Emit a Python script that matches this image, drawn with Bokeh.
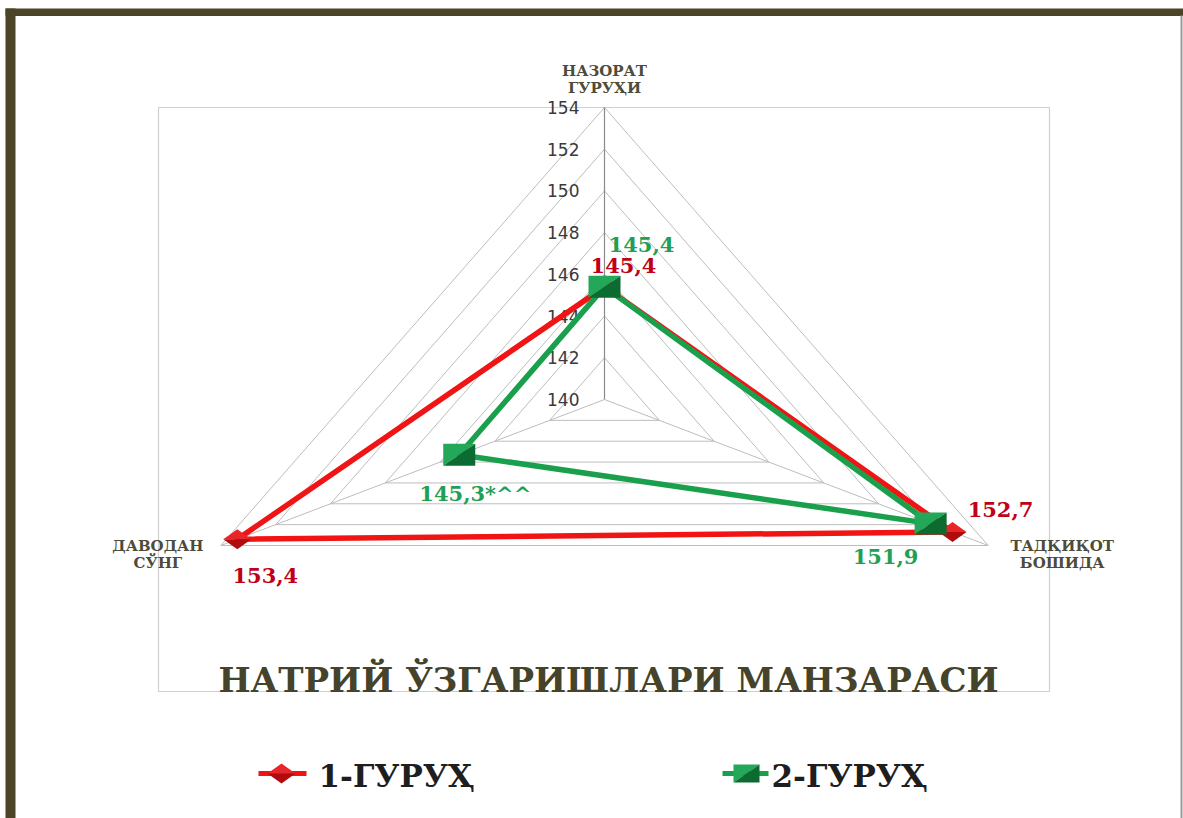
import math
from bokeh.plotting import figure
from bokeh.models import Range1d, ColumnDataSource
from bokeh.core.properties import value
from bokeh.embed import file_html
from bokeh.resources import INLINE

# ---------------- data ----------------
categories = ["НАЗОРАТ ГУРУҲИ", "ТАДҚИҚОТ БОШИДА", "ДАВОДАН СЎНГ"]
cat_lines = [["НАЗОРАТ", "ГУРУҲИ"], ["ТАДҚИҚОТ", "БОШИДА"], ["ДАВОДАН", "СЎНГ"]]
group1 = [145.4, 152.7, 153.4]
group2 = [145.4, 151.9, 145.3]
labels1 = ["145,4", "152,7", "153,4"]
labels2 = ["145,4", "151,9", "145,3*^^"]
ticks = [140, 142, 144, 146, 148, 150, 152, 154]
series_names = ["1-ГУРУҲ", "2-ГУРУҲ"]
title = "НАТРИЙ ЎЗГАРИШЛАРИ МАНЗАРАСИ"

# ---------------- layout / style ----------------
W, H = 1183, 818
CX, CY = 604, 399
RX, RY = 443, 292
VMIN, VMAX = ticks[0], ticks[-1]
RED, RED_DARK, RED_LIGHT, RED_TXT = "#f01414", "#b00c10", "#e8262a", "#c00018"
GRN, GRN_DARK, GRN_LIGHT, GRN_TXT = "#1aa04c", "#0c6b30", "#22a858", "#1fa055"
SERIF = value("DejaVu Serif")
SANS = value("DejaVu Sans")


def pt(v, k):
    r = (v - VMIN) / (VMAX - VMIN)
    th = 2 * math.pi * k / len(categories)
    return CX + r * math.sin(th) * RX, CY - r * math.cos(th) * RY


p = figure(width=W, height=H, x_range=Range1d(0, W), y_range=Range1d(H, 0),
           output_backend="svg", toolbar_location=None, min_border=0)
p.axis.visible = False
p.grid.visible = False
p.outline_line_color = None
p.background_fill_color = "white"
p.border_fill_color = "white"

# outer frame
p.quad(left=[5], right=[W], top=[8], bottom=[15.5], fill_color="#4b4426", line_color=None)
p.quad(left=[5], right=[15], top=[8], bottom=[H], fill_color="#4b4426", line_color=None)
p.segment(x0=[1181], y0=[15], x1=[1181], y1=[H], line_color="#9a9a9a", line_width=2)

# plot area box
p.quad(left=[158], right=[1049], top=[107], bottom=[691], fill_color=None,
       line_color="#cfcfcf", line_width=1.2)

# grid rings
n = len(categories)
gx, gy = [], []
for v in ticks[1:]:
    pts = [pt(v, k) for k in range(n)] + [pt(v, 0)]
    gx.append([q[0] for q in pts])
    gy.append([q[1] for q in pts])
p.multi_line(gx, gy, line_color="#bdbdbd", line_width=1)

# spokes
for k in range(n):
    x1, y1 = pt(VMAX, k)
    p.segment(x0=[CX], y0=[CY], x1=[x1], y1=[y1],
              line_color="#8a8a8a" if k == 0 else "#bdbdbd", line_width=1.2 if k == 0 else 1)

# tick labels
tx = [pt(v, 0)[0] for v in ticks]
ty = [pt(v, 0)[1] for v in ticks]
p.text(tx, ty, text=[str(v) for v in ticks], x_offset=-25, text_align="right",
       text_baseline="middle", text_font=SANS, text_font_size="17px", text_color="#3a3a3a")

# category labels
cat_off = [(0, -37, 17), (74, 0, 17), (-63, 0, 17)]
for k in range(n):
    vx, vy = pt(VMAX, k)
    dx, dy, lh = cat_off[k]
    for j, line in enumerate(cat_lines[k]):
        p.text([vx], [vy], text=[line], x_offset=dx, y_offset=dy + j * lh,
               text_align="center", text_baseline="middle", text_font=SERIF,
               text_font_style="bold", text_font_size="15px", text_color="#4d4b3a")


def series_xy(vals):
    pts = [pt(v, k) for k, v in enumerate(vals)]
    pts.append(pts[0])
    return [q[0] for q in pts], [q[1] for q in pts]


def diamond(x, y, hw=14, hh=10):
    up = ([x - hw, x, x + hw], [y, y - hh, y])
    lo = ([x - hw, x, x + hw], [y, y + hh, y])
    return up, lo


def square(x, y, hw=16, hh=11):
    ul = ([x - hw, x + hw, x - hw], [y - hh, y - hh, y + hh])
    lr = ([x + hw, x + hw, x - hw], [y - hh, y + hh, y + hh])
    return ul, lr


def draw_diamonds(xs, ys, hw=14, hh=10):
    ups, los = [], []
    for x, y in zip(xs, ys):
        u, l = diamond(x, y, hw, hh)
        ups.append(u)
        los.append(l)
    p.patches([u[0] for u in ups], [u[1] for u in ups], fill_color=RED_LIGHT, line_color=None)
    p.patches([l[0] for l in los], [l[1] for l in los], fill_color=RED_DARK, line_color=None)


def draw_squares(xs, ys, hw=16, hh=11):
    a, b = [], []
    for x, y in zip(xs, ys):
        u, l = square(x, y, hw, hh)
        a.append(u)
        b.append(l)
    p.patches([u[0] for u in a], [u[1] for u in a], fill_color=GRN_LIGHT, line_color=None)
    p.patches([l[0] for l in b], [l[1] for l in b], fill_color=GRN_DARK, line_color=None)


# series 1
x1s, y1s = series_xy(group1)
p.line(x1s, y1s, line_color=RED, line_width=5.5, line_join="round")
draw_diamonds(x1s[:-1], y1s[:-1])

# series 2
x2s, y2s = series_xy(group2)
p.line(x2s, y2s, line_color=GRN, line_width=5.5, line_join="round")
draw_squares(x2s[:-1], y2s[:-1])

# data labels
off1 = [(19, -21), (48, -22), (28, 36)]
off2 = [(37, -42), (-45, 33), (16, 39)]
s1 = ColumnDataSource(dict(x=x1s[:-1], y=y1s[:-1], t=labels1,
                           dx=[o[0] for o in off1], dy=[o[1] for o in off1]))
s2 = ColumnDataSource(dict(x=x2s[:-1], y=y2s[:-1], t=labels2,
                           dx=[o[0] for o in off2], dy=[o[1] for o in off2]))
p.text("x", "y", text="t", x_offset="dx", y_offset="dy", source=s1, text_align="center",
       text_baseline="middle", text_font=SERIF, text_font_style="bold",
       text_font_size="21px", text_color=RED_TXT)
p.text("x", "y", text="t", x_offset="dx", y_offset="dy", source=s2, text_align="center",
       text_baseline="middle", text_font=SERIF, text_font_style="bold",
       text_font_size="21px", text_color=GRN_TXT)

# title
p.text([608], [679], text=[title], text_align="center", text_baseline="middle",
       text_font=SERIF, text_font_style="bold", text_font_size="34px", text_color="#45432a")

# legend
LY = 773
p.segment(x0=[258], y0=[LY], x1=[306], y1=[LY], line_color=RED, line_width=5)
draw_diamonds([281], [LY], 14, 10)
p.text([318], [LY + 2], text=[series_names[0]], text_align="left", text_baseline="middle",
       text_font=SERIF, text_font_style="bold", text_font_size="31px", text_color="#1e1e1e")
p.segment(x0=[722], y0=[LY], x1=[768], y1=[LY], line_color=GRN, line_width=5)
draw_squares([746], [LY], 13, 9)
p.text([771], [LY + 2], text=[series_names[1]], text_align="left", text_baseline="middle",
       text_font=SERIF, text_font_style="bold", text_font_size="31px", text_color="#1e1e1e")

open("out.html", "w").write(file_html(p, INLINE))
